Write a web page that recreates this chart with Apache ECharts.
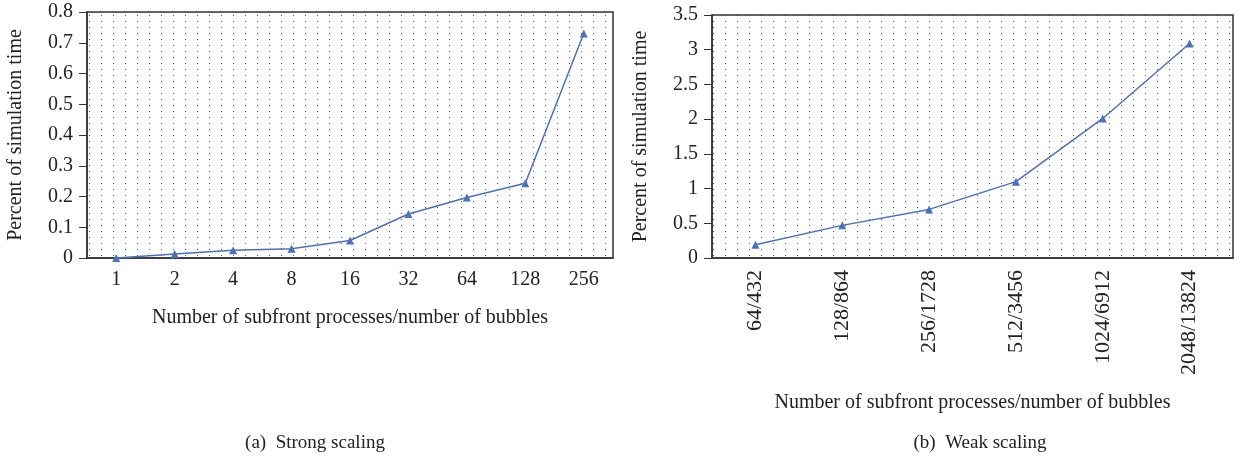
<!DOCTYPE html>
<html>
<head>
<meta charset="utf-8">
<script src="https://cdn.jsdelivr.net/npm/echarts@6/dist/echarts.min.js"></script>
<style>
  html, body { margin: 0; padding: 0; background: #fff; }
  #chart { width: 1238px; height: 457px; }
</style>
</head>
<body>
<div id="chart"></div>
<script>
var strongCats = ['1', '2', '4', '8', '16', '32', '64', '128', '256'];
var strongVals = [0, 0.013, 0.025, 0.03, 0.057, 0.143, 0.197, 0.243, 0.73];
var weakCats = ['64/432', '128/864', '256/1728', '512/3456', '1024/6912', '2048/13824'];
var weakVals = [0.19, 0.47, 0.70, 1.10, 2.01, 3.09];

var xName = 'Number of subfront processes/number of bubbles';
var yName = 'Percent of simulation time';
var font = '"Liberation Serif", "DejaVu Serif", serif';
var lineColor = '#4a70be';
var axisColor = '#333';
var textColor = '#222';

// dotted texture for the plot area
var dots = document.createElement('canvas');
dots.width = 12;
dots.height = 6;
var dctx = dots.getContext('2d');
dctx.fillStyle = '#5a5a5a';
dctx.fillRect(5, 3, 1, 1);

var myChart = echarts.init(document.getElementById('chart'));

function xAxisOf(idx, cats, rotate, gap, size) {
    return {
        type: 'category',
        gridIndex: idx,
        data: cats,
        boundaryGap: true,
        name: xName,
        nameLocation: 'middle',
        nameGap: gap,
        nameTextStyle: { fontFamily: font, fontSize: 20, color: textColor },
        axisLine: { lineStyle: { color: axisColor, width: 1.5 } },
        axisTick: { alignWithLabel: true, length: 7, lineStyle: { color: axisColor } },
        axisLabel: { fontFamily: font, fontSize: size, color: textColor, rotate: rotate, margin: 12, interval: 0 },
        splitLine: { show: false }
    };
}

function yAxisOf(idx, max, interval, gap) {
    return {
        type: 'value',
        gridIndex: idx,
        min: 0,
        max: max,
        interval: interval,
        name: yName,
        nameLocation: 'middle',
        nameRotate: 90,
        nameGap: gap,
        nameTextStyle: { fontFamily: font, fontSize: 20, color: textColor },
        axisLine: { show: true, lineStyle: { color: axisColor, width: 1.5 } },
        axisTick: { show: true, length: 8, lineStyle: { color: axisColor } },
        axisLabel: { fontFamily: font, fontSize: 20, color: textColor, margin: 14 },
        splitLine: { show: false }
    };
}

function seriesOf(idx, vals) {
    return {
        type: 'line',
        xAxisIndex: idx,
        yAxisIndex: idx,
        data: vals,
        symbol: 'triangle',
        symbolSize: 8,
        showSymbol: true,
        lineStyle: { color: lineColor, width: 1.5 },
        itemStyle: { color: lineColor },
        animation: false
    };
}

var option = {
    backgroundColor: '#fff',
    title: [{
        text: '(a)  Strong scaling',
        left: 310, top: 429, textAlign: 'center',
        textStyle: { fontFamily: font, fontSize: 19, fontWeight: 'normal', color: textColor }
    }, {
        text: '(b)  Weak scaling',
        left: 975, top: 429, textAlign: 'center',
        textStyle: { fontFamily: font, fontSize: 19, fontWeight: 'normal', color: textColor }
    }],
    grid: [{
        left: 87, right: 625, top: 12, bottom: 199,
        show: true, borderColor: axisColor, borderWidth: 1.5,
        backgroundColor: { image: dots, repeat: 'repeat' }
    }, {
        left: 712, right: 5, top: 15, bottom: 199,
        show: true, borderColor: axisColor, borderWidth: 1.5,
        backgroundColor: { image: dots, repeat: 'repeat' }
    }],
    xAxis: [xAxisOf(0, strongCats, 0, 50, 20), xAxisOf(1, weakCats, 90, 135, 22)],
    yAxis: [yAxisOf(0, 0.8, 0.1, 61), yAxisOf(1, 3.5, 0.5, 61)],
    series: [seriesOf(0, strongVals), seriesOf(1, weakVals)]
};

myChart.setOption(option);
</script>
</body>
</html>
